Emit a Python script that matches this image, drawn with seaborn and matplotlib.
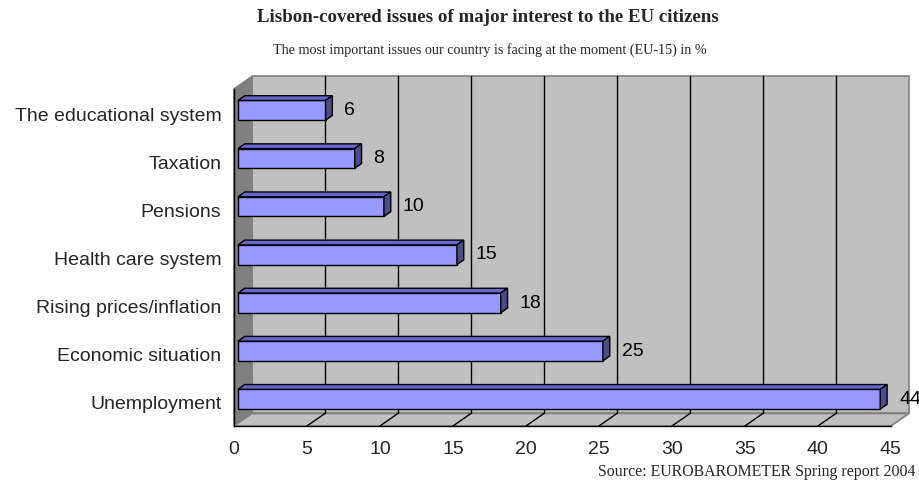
import matplotlib
matplotlib.use("Agg")
import matplotlib.pyplot as plt
import matplotlib.transforms as mtransforms
from matplotlib.patches import Polygon
import numpy as np
import pandas as pd
import seaborn as sns

# Survey data: share of respondents naming each issue (EU-15, %)
issues = [
    "The educational system",
    "Taxation",
    "Pensions",
    "Health care system",
    "Rising prices/inflation",
    "Economic situation",
    "Unemployment",
]
shares = [6, 8, 10, 15, 18, 25, 44]
x_ticks = [0, 5, 10, 15, 20, 25, 30, 35, 40, 45]

title = "Lisbon-covered issues of major interest to the EU citizens"
subtitle = "The most important issues our country is facing at the moment (EU-15) in %"
source = "Source: EUROBAROMETER Spring report 2004"

df = pd.DataFrame({"issue": issues, "share": shares})

sns.set_theme(style="white")
plt.rcParams["font.family"] = ["Liberation Sans", "DejaVu Sans"]

DPI = 100
fig = plt.figure(figsize=(9.2, 4.81), dpi=DPI)
ax = fig.add_axes([0.2543, 0.1123, 0.7141, 0.7006])

# 3D look: depth vector in pixels (right, up) for the back of the plot box
DEPTH = np.array([18.0, 12.5])
BAR_FRONT, BAR_BACK = 0.22, 0.60

WALL = "#C0C0C0"
SIDE_WALL = "#808080"
EDGE = "#808080"
FACE = "#9999FF"
TOP = "#6666CC"
SIDE = "#4B4B8C"

xmax = x_ticks[-1]
n = len(issues)
ax.set_xlim(0, xmax)
ax.set_ylim(n - 0.5, -0.5)


def proj(x, y, depth):
    """Data point pushed back by a fraction of the box depth, in display pixels."""
    p = ax.transData.transform((x, y))
    return p + depth * DEPTH


def shifted(depth):
    dx, dy = depth * DEPTH / DPI
    return ax.transData + mtransforms.ScaledTranslation(dx, dy, fig.dpi_scale_trans)


ident = mtransforms.IdentityTransform()
y0, y1 = -0.5, n - 0.5

# back wall
back = [proj(0, y0, 1), proj(xmax, y0, 1), proj(xmax, y1, 1), proj(0, y1, 1)]
ax.add_patch(Polygon(back, closed=True, facecolor=WALL, edgecolor=EDGE, lw=1.2,
                     transform=ident, zorder=0, clip_on=False))
# left side wall
left = [proj(0, y0, 0), proj(0, y0, 1), proj(0, y1, 1), proj(0, y1, 0)]
ax.add_patch(Polygon(left, closed=True, facecolor=SIDE_WALL, edgecolor=EDGE, lw=1.2,
                     transform=ident, zorder=0, clip_on=False))
# floor
floor = [proj(0, y1, 0), proj(0, y1, 1), proj(xmax, y1, 1), proj(xmax, y1, 0)]
ax.add_patch(Polygon(floor, closed=True, facecolor=WALL, edgecolor=EDGE, lw=1.2,
                     transform=ident, zorder=0, clip_on=False))

# gridlines on the back wall and across the floor
for t in x_ticks[1:-1]:
    a, b = proj(t, y0, 1), proj(t, y1, 1)
    ax.plot([a[0], b[0]], [a[1], b[1]], color="black", lw=1.0, transform=ident,
            zorder=1, clip_on=False)
    c = proj(t, y1, 0)
    ax.plot([c[0], b[0]], [c[1], b[1]], color="black", lw=1.0, transform=ident,
            zorder=1, clip_on=False)

# bar front faces
sns.barplot(data=df, x="share", y="issue", orient="h", width=0.41,
            color=FACE, saturation=1, edgecolor="black", linewidth=1.0, ax=ax, zorder=3)
ax.set_xlim(0, xmax)
ax.set_ylim(n - 0.5, -0.5)
for bar in ax.patches:
    if bar.get_zorder() == 3:
        bar.set_transform(shifted(BAR_FRONT))
        bar.set_clip_on(False)

# bar tops, sides and value labels
half = 0.41 / 2
for i, v in enumerate(shares):
    top = [proj(0, i - half, BAR_FRONT), proj(v, i - half, BAR_FRONT),
           proj(v, i - half, BAR_BACK), proj(0, i - half, BAR_BACK)]
    ax.add_patch(Polygon(top, closed=True, facecolor=TOP, edgecolor="black", lw=1.0,
                         transform=ident, zorder=4, clip_on=False))
    side = [proj(v, i - half, BAR_FRONT), proj(v, i + half, BAR_FRONT),
            proj(v, i + half, BAR_BACK), proj(v, i - half, BAR_BACK)]
    ax.add_patch(Polygon(side, closed=True, facecolor=SIDE, edgecolor="black", lw=1.0,
                         transform=ident, zorder=4, clip_on=False))
    off = (BAR_BACK * DEPTH + np.array([12.0, -4.0])) * 72 / DPI
    ax.annotate(str(v), xy=(v, i), xytext=tuple(off), textcoords="offset points",
                ha="left", va="center", fontsize=14, color="black")

# axes in the front plane
for s in ["top", "right"]:
    ax.spines[s].set_visible(False)
for s in ["left", "bottom"]:
    ax.spines[s].set_color("black")
    ax.spines[s].set_linewidth(1.0)
ax.set_xticks(x_ticks)
ax.set_xticklabels([str(t) for t in x_ticks], fontsize=14)
ax.set_yticks(range(n))
ax.set_yticklabels(issues, fontsize=14)
ax.set_yticks(np.arange(-0.5, n, 1.0), minor=True)
ax.tick_params(axis="y", which="major", length=0, pad=9)
ax.tick_params(axis="y", which="minor", length=7, width=1.0, color="black", direction="out")
ax.tick_params(axis="x", which="major", length=6, width=1.0, color="black", direction="out", pad=4)
ax.set_xlabel("")
ax.set_ylabel("")
ax.set_facecolor("none")
ax.grid(False)

fig.text(0.530, 0.963, title, ha="center", va="center", fontsize=13.6,
         fontweight="bold", family=["Liberation Serif", "DejaVu Serif"])
fig.text(0.533, 0.897, subtitle, ha="center", va="center", fontsize=10.2,
         family=["Liberation Serif", "DejaVu Serif"])
fig.text(0.995, 0.018, source, ha="right", va="center", fontsize=11.4,
         family=["Liberation Serif", "DejaVu Serif"])

fig.savefig("out.png", dpi=DPI, facecolor="white")
